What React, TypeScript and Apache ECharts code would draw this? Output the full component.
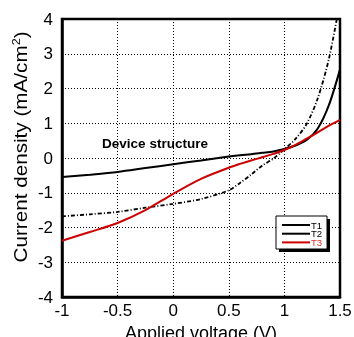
import React, { useEffect, useRef } from "react";
import * as echarts from "echarts";

const voltage = [-1, -0.75, -0.5, -0.25, 0, 0.25, 0.5, 0.6, 0.7, 0.8, 0.9, 1.0, 1.1, 1.2, 1.3, 1.4, 1.5];
const t1 = [-0.55, -0.48, -0.4, -0.29, -0.18, -0.07, 0.04, 0.08, 0.11, 0.15, 0.19, 0.26, 0.36, 0.52, 0.85, 1.52, 2.55];
const t2 = [-1.68, -1.62, -1.55, -1.43, -1.32, -1.18, -0.93, -0.72, -0.48, -0.22, -0.02, 0.25, 0.55, 0.98, 1.72, 2.85, 4.5];
const t3 = [-2.38, -2.13, -1.87, -1.5, -1.03, -0.6, -0.28, -0.17, -0.07, 0.02, 0.12, 0.23, 0.38, 0.56, 0.74, 0.93, 1.1];
const seriesNames = ["T1", "T2", "T3"];
const seriesColors = ["#000000", "#000000", "#cc0000"];

const FONT = "Liberation Sans, Arial, sans-serif";

export default function App() {
  const ref = useRef<HTMLDivElement>(null);
  useEffect(() => {
    if (!ref.current) return;
    const chart = echarts.init(ref.current, undefined, { renderer: "svg" });
    const pairs = (ys: number[]) => voltage.map((v, i) => [v, ys[i]]);
    const legendItems: any[] = [];
    seriesNames.forEach((n, i) => {
      const y = 225 + i * 8.7;
      legendItems.push({
        type: "line",
        shape: { x1: 282, y1: y, x2: 310, y2: y },
        style: { stroke: seriesColors[i], lineWidth: 2 },
        z: 20,
      });
      legendItems.push({
        type: "text",
        x: 311,
        y: y,
        style: {
          text: n,
          fill: i === 2 ? "#e03030" : "#000",
          font: `9.5px ${FONT}`,
          lineHeight: 8,
          textVerticalAlign: "middle",
        },
        z: 20,
      });
    });
    chart.setOption({
      animation: false,
      grid: {
        left: 62,
        top: 19,
        right: 14,
        bottom: 40,
        outerBoundsMode: "none",
        containLabel: false,
        show: true,
        borderColor: "#000",
        borderWidth: 2.5,
        backgroundColor: "transparent",
      },
      xAxis: {
        type: "value",
        min: -1,
        max: 1.5,
        interval: 0.5,
        name: "Applied voltage (V)",
        nameLocation: "middle",
        nameGap: 21,
        nameTextStyle: { fontFamily: FONT, fontSize: 18, color: "#000" },
        axisLine: { show: true, onZero: false, lineStyle: { color: "#000", width: 2.5 } },
        axisTick: { show: false },
        axisLabel: { fontFamily: FONT, fontSize: 17, color: "#000", margin: 5 },
        splitLine: { show: true, lineStyle: { color: "#000", type: [1, 2], width: 1 } },
      },
      yAxis: {
        type: "value",
        min: -4,
        max: 4,
        interval: 1,
        axisLine: { show: true, onZero: false, lineStyle: { color: "#000", width: 2.5 } },
        axisTick: { show: false },
        axisLabel: { fontFamily: FONT, fontSize: 17, color: "#000", margin: 9 },
        splitLine: { show: true, lineStyle: { color: "#000", type: [1, 2], width: 1 } },
      },
      series: [
        {
          name: "T1",
          type: "line",
          data: pairs(t1),
          smooth: 0.3,
          showSymbol: false,
          clip: true,
          lineStyle: { color: seriesColors[0], width: 2 },
          z: 3,
        },
        {
          name: "T2",
          type: "line",
          data: pairs(t2),
          smooth: 0.3,
          showSymbol: false,
          clip: true,
          lineStyle: { color: seriesColors[1], width: 1.8, type: [4, 2, 1, 2] },
          z: 3,
        },
        {
          name: "T3",
          type: "line",
          data: pairs(t3),
          smooth: 0.3,
          showSymbol: false,
          clip: true,
          lineStyle: { color: seriesColors[2], width: 2 },
          z: 4,
        },
      ],
      graphic: [
        {
          type: "text",
          x: 21,
          y: 147,
          rotation: Math.PI / 2,
          scaleX: 1.15,
          style: {
            text: "{n|Current density (mA/cm}{s|2}{n|)}",
            textAlign: "center",
            textVerticalAlign: "middle",
            rich: {
              n: { fontFamily: FONT, fontSize: 18, fill: "#000" },
              s: { fontFamily: FONT, fontSize: 11, fill: "#000", padding: [0, 0, 9, 0] },
            },
          },
          z: 20,
        },
        {
          type: "text",
          x: 155,
          y: 143,
          style: { text: "Device structure", font: `bold 13.5px ${FONT}`, fill: "#000", textAlign: "center", textVerticalAlign: "middle" },
          z: 20,
        },
        { type: "rect", shape: { x: 279, y: 219, width: 51, height: 33 }, style: { fill: "#000" }, z: 18 },
        { type: "rect", shape: { x: 276, y: 216, width: 51, height: 33 }, style: { fill: "#fff", stroke: "#000", lineWidth: 1 }, z: 19 },
        ...legendItems,
      ],
    });
    return () => chart.dispose();
  }, []);
  return <div ref={ref} style={{ position: "fixed", left: 0, top: 0, width: 354, height: 337 }} />;
}
